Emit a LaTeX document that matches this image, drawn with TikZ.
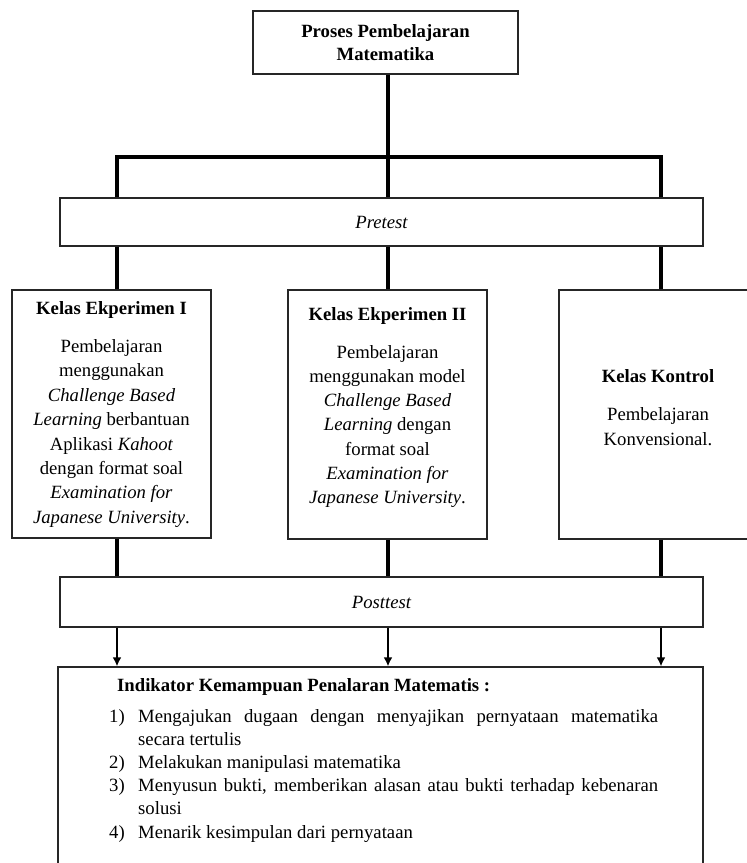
\documentclass[tikz,border=0pt]{standalone}
\usepackage{fontspec}
\setmainfont{Liberation Serif}
\usetikzlibrary{arrows.meta}
\begin{document}
\begin{tikzpicture}[x=1pt,y=-1pt,
  font=\fontsize{18.7}{23}\selectfont,
  box/.style={draw=black!85, line width=1.3pt, inner sep=0pt, align=center},
  conn/.style={line width=4.2pt, line join=miter},
  arr/.style={line width=2.8pt, -{Latex[length=9pt,width=9pt]}},
  txt/.style={inner sep=0pt}]
\useasboundingbox (0,0) rectangle (747,863);
% columns
\coordinate (cA) at (117,0);
\coordinate (cB) at (388,0);
\coordinate (cC) at (661,0);
% boxes
\node[box, minimum width=265pt, minimum height=63pt, font=\fontsize{18.7}{23}\selectfont\bfseries] (top) at (385.5,42.5) {Proses Pembelajaran\\Matematika};
\node[box, minimum width=643pt, minimum height=48pt, font=\fontsize{18.7}{23}\selectfont\itshape] (pre) at (381.5,222) {Pretest};
\node[box, minimum width=199pt, minimum height=248pt] (b1) at (111.5,414) {};
\node[box, minimum width=199pt, minimum height=249pt] (b2) at (387.5,414.5) {};
\node[box, minimum width=198pt, minimum height=249pt] (b3) at (658,414.5) {};
\node[box, minimum width=643pt, minimum height=50pt, font=\fontsize{18.7}{23}\selectfont\itshape] (pos) at (381.5,602) {Posttest};
\node[box, minimum width=645pt, minimum height=246pt] (ind) at (380.5,790) {};
% box texts
\node[txt, anchor=base] (t1) at (111.5,314) {\parbox[t]{230pt}{\centering\fontsize{18.7}{24.4}\selectfont
  \textbf{Kelas Ekperimen I}\\[14pt]
  Pembelajaran\\ menggunakan\\ \textit{Challenge Based}\\ \textit{Learning} berbantuan\\
  Aplikasi \textit{Kahoot}\\ dengan format soal\\ \textit{Examination for}\\ \textit{Japanese University}.}};
\node[txt, anchor=base] (t2) at (387.5,320) {\parbox[t]{230pt}{\centering\fontsize{18.7}{24.2}\selectfont
  \textbf{Kelas Ekperimen II}\\[14pt]
  Pembelajaran\\ menggunakan model\\ \textit{Challenge Based}\\ \textit{Learning} dengan\\
  format soal\\ \textit{Examination for}\\ \textit{Japanese University}.}};
\node[txt, anchor=base] (t3) at (658,382) {\parbox[t]{230pt}{\centering\fontsize{18.7}{25}\selectfont
  \textbf{Kelas Kontrol}\\[13pt]
  Pembelajaran\\ Konvensional.}};
\node[txt, anchor=base west] (t4) at (109,691) {\parbox[t]{549pt}{\fontsize{18.7}{23.2}\selectfont
  \tolerance=10000\hbadness=10000\hyphenpenalty=10000\exhyphenpenalty=10000\parindent=0pt
  \hspace*{8pt}\textbf{Indikator Kemampuan Penalaran Matematis :}\par\vspace{7.8pt}
  \hangindent=29pt\hangafter=1\makebox[29pt][l]{1)}Mengajukan dugaan dengan menyajikan pernyataan matematika secara tertulis\par
  \hangindent=29pt\hangafter=1\makebox[29pt][l]{2)}Melakukan manipulasi matematika\par
  \hangindent=29pt\hangafter=1\makebox[29pt][l]{3)}Menyusun bukti, memberikan alasan atau bukti terhadap kebenaran solusi\par
  \hangindent=29pt\hangafter=1\makebox[29pt][l]{4)}Menarik kesimpulan dari pernyataan\par}};
% connectors
\coordinate (jl) at (117,157);
\coordinate (jr) at (661,157);
\draw[conn] (top.south -| cB) -- (pre.north -| cB);
\draw[conn] (pre.north -| cA) -- (jl) -- (jr) -- (pre.north -| cC);
\draw[conn] (pre.south -| cA) -- (b1.north -| cA);
\draw[conn] (pre.south -| cB) -- (b2.north -| cB);
\draw[conn] (pre.south -| cC) -- (b3.north -| cC);
\draw[conn] (b1.south -| cA) -- (pos.north -| cA);
\draw[conn] (b2.south -| cB) -- (pos.north -| cB);
\draw[conn] (b3.south -| cC) -- (pos.north -| cC);
\draw[arr] (pos.south -| cA) -- (ind.north -| cA);
\draw[arr] (pos.south -| cB) -- (ind.north -| cB);
\draw[arr] (pos.south -| cC) -- (ind.north -| cC);
\end{tikzpicture}
\end{document}
